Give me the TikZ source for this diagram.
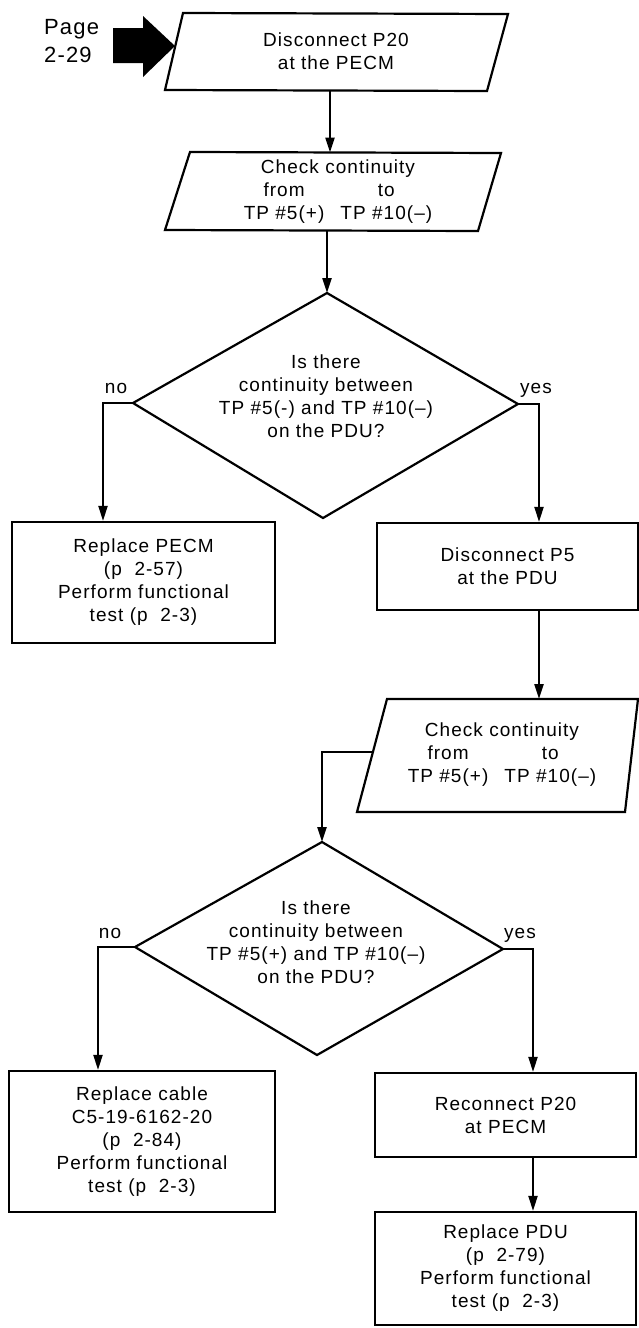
\documentclass[tikz,border=0pt]{standalone}
\usepackage{fontspec}
\setmainfont{Liberation Sans}[LetterSpace=5.5]
\usetikzlibrary{arrows.meta}
\begin{document}
\begin{tikzpicture}[x=1pt,y=-1pt,line width=2.2pt,line join=miter,
  conn/.style={-{Triangle[length=15pt,width=9pt]}},
  base/.style={font=\fontsize{19}{23}\selectfont, align=center, inner sep=0pt},
  box/.style={base, draw, rectangle},
  lbl/.style={font=\fontsize{19}{23}\selectfont, inner sep=0pt, anchor=base}]
\useasboundingbox (0,0) rectangle (639,1328);

% entry marker
\fill (113,28) -- (143,28) -- (143,16) -- (175,46) -- (143,77) -- (143,63) -- (113,63) -- cycle;
\node[base, align=left, font=\fontsize{22}{28}\selectfont, anchor=west] (page) at (43,41.5) {Page\\2-29};

% parallelogram 1
\coordinate (p1a) at (183,13); \coordinate (p1b) at (508,14);
\coordinate (p1c) at (487,91); \coordinate (p1d) at (165,90);
\draw (p1a) -- (p1b) -- (p1c) -- (p1d) -- cycle;
\node[base] (t1) at (336,51) {Disconnect P20\\at the PECM};

% parallelogram 2
\coordinate (p2a) at (190,152); \coordinate (p2b) at (501,153);
\coordinate (p2c) at (478,231); \coordinate (p2d) at (165,230);
\draw (p2a) -- (p2b) -- (p2c) -- (p2d) -- cycle;
\node[base] (t2) at (338,193) {Check continuity\\\begin{tabular}[t]{@{}c@{\hspace{16pt}}c@{}}from & to\\TP \#5(+) & TP \#10(–)\end{tabular}};

% diamond 1
\coordinate (d1t) at (327,293); \coordinate (d1r) at (518,404);
\coordinate (d1b) at (323,518); \coordinate (d1l) at (133,403);
\draw (d1t) -- (d1r) -- (d1b) -- (d1l) -- cycle;
\node[base] (t3) at (326,396) {Is there\\continuity between\\TP \#5(-) and TP \#10(–)\\on the PDU?};
\node[lbl] (no1) at (116,393) {no};
\node[lbl] (yes1) at (536,393) {yes};

% boxes after diamond 1
\node[box, minimum width=263pt, minimum height=121pt] (pecm) at (143.5,582.5)
  {Replace PECM\\(p~~2-57)\\Perform functional\\test (p~~2-3)};
\node[box, minimum width=261pt, minimum height=87pt] (p5) at (507.5,566.5)
  {Disconnect P5\\at the PDU};

% parallelogram 3
\coordinate (p3a) at (387,699); \coordinate (p3b) at (638,699);
\coordinate (p3c) at (625,812); \coordinate (p3d) at (357,812);
\draw (p3a) -- (p3b) -- (p3c) -- (p3d) -- cycle;
\node[base] (t4) at (502,756) {Check continuity\\\begin{tabular}[t]{@{}c@{\hspace{16pt}}c@{}}from & to\\TP \#5(+) & TP \#10(–)\end{tabular}};

% diamond 2
\coordinate (d2t) at (322,842); \coordinate (d2r) at (503,949);
\coordinate (d2b) at (317,1055); \coordinate (d2l) at (135,947);
\draw (d2t) -- (d2r) -- (d2b) -- (d2l) -- cycle;
\node[base] (t5) at (316,942) {Is there\\continuity between\\TP \#5(+) and TP \#10(–)\\on the PDU?};
\node[lbl] (no2) at (110,938) {no};
\node[lbl] (yes2) at (520,938) {yes};

% bottom boxes
\node[box, minimum width=266pt, minimum height=141pt] (cable) at (142,1141.5)
  {Replace cable\\C5-19-6162-20\\(p~~2-84)\\Perform functional\\test (p~~2-3)};
\node[box, minimum width=261pt, minimum height=84pt] (rec) at (505.5,1115)
  {Reconnect P20\\at PECM};
\node[box, minimum width=261pt, minimum height=113pt] (pdu) at (505.5,1268.5)
  {Replace PDU\\(p~~2-79)\\Perform functional\\test (p~~2-3)};

% connectors
\coordinate (c1a) at (330,90.5);  \coordinate (c1b) at (330,152.5);
\draw[conn] (c1a) -- (c1b);
\coordinate (c2a) at (327,230.5);
\draw[conn] (c2a) -- (d1t);
\coordinate (n1) at (103,403);
\draw[conn] (d1l) -- (n1) -- (n1 |- pecm.north);
\coordinate (y1) at (539,404);
\draw[conn] (d1r) -- (y1) -- (y1 |- p5.north);
\coordinate (c3b) at (539,699);
\draw[conn] (y1 |- p5.south) -- (c3b);
\coordinate (p3l) at (373,752); \coordinate (k3) at (322,752);
\draw[conn] (p3l) -- (k3) -- (d2t);
\coordinate (n2) at (98,947);
\draw[conn] (d2l) -- (n2) -- (n2 |- cable.north);
\coordinate (y2) at (533,949);
\draw[conn] (d2r) -- (y2) -- (y2 |- rec.north);
\draw[conn] (y2 |- rec.south) -- (y2 |- pdu.north);
\end{tikzpicture}
\end{document}
